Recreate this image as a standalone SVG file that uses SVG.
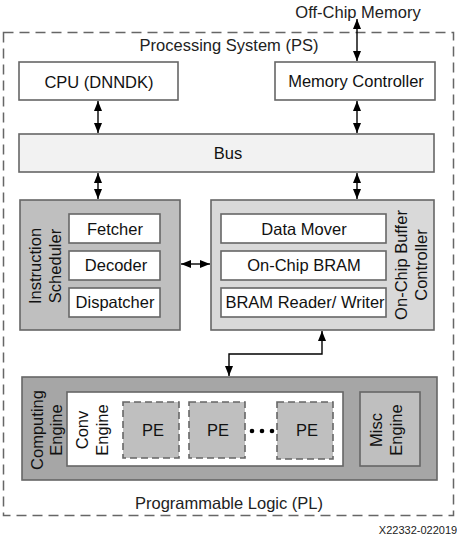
<svg xmlns="http://www.w3.org/2000/svg" width="457" height="537" viewBox="0 0 457 537">
<defs>
<style>
text{font-family:"Liberation Sans",Arial,sans-serif;font-size:16.5px;fill:#111;text-anchor:middle;dominant-baseline:central}
.box{stroke:#666;stroke-width:1.6}
.w{fill:#fff}
.pe{fill:#bfbfbf;stroke:#666;stroke-width:1.6;stroke-dasharray:7 4}
.c{fill:none;stroke:#000;stroke-width:1.4}
.lbl{fill:#222}
</style>
<marker id="ah" viewBox="0 0 10 8" refX="10" refY="4" markerWidth="10" markerHeight="8" markerUnits="userSpaceOnUse" orient="auto-start-reverse">
<path d="M0,0 L10,4 L0,8 Z" fill="#000"/>
</marker>
</defs>
<rect width="457" height="537" fill="#fff"/>
<g id="ps-pl-boundary">
<rect x="3.5" y="32.5" width="450" height="483" fill="none" stroke="#666" stroke-width="1.5" stroke-dasharray="10 6"/>
<text class="lbl" x="229" y="45">Processing System (PS)</text>
<text class="lbl" x="229" y="503">Programmable Logic (PL)</text>
</g>
<g id="offchip"><text class="lbl" x="358" y="12">Off-Chip Memory</text></g>
<g id="cpu"><rect class="box w" x="19" y="62" width="159" height="38"/><text x="99" y="82">CPU (DNNDK)</text></g>
<g id="memctrl"><rect class="box w" x="275" y="62" width="160" height="38"/><text x="356" y="81">Memory Controller</text></g>
<g id="bus"><rect class="box" fill="#f2f2f2" x="19" y="134" width="415" height="38"/><text x="228" y="153">Bus</text></g>
<g id="instr-sched">
<rect class="box" fill="#bfbfbf" x="20" y="200" width="160" height="130"/>
<text transform="translate(35,266) rotate(-90)">Instruction</text>
<text transform="translate(55,266) rotate(-90)">Scheduler</text>
<g id="fetcher"><rect class="box w" x="69" y="214" width="91" height="29"/><text x="115" y="229">Fetcher</text></g>
<g id="decoder"><rect class="box w" x="69" y="251" width="91" height="29"/><text x="116" y="265">Decoder</text></g>
<g id="dispatcher"><rect class="box w" x="69" y="288" width="91" height="29"/><text x="115" y="302">Dispatcher</text></g>
</g>
<g id="buffer-ctrl">
<rect class="box" fill="#d9d9d9" x="211" y="200" width="223" height="130"/>
<text transform="translate(401,265) rotate(-90)">On-Chip Buffer</text>
<text transform="translate(421,265) rotate(-90)">Controller</text>
<g id="datamover"><rect class="box w" x="221" y="214" width="165" height="29"/><text x="304" y="229">Data Mover</text></g>
<g id="bram"><rect class="box w" x="221" y="251" width="165" height="29"/><text x="304" y="265">On-Chip BRAM</text></g>
<g id="rw"><rect class="box w" x="221" y="288" width="165" height="29"/><text x="305" y="302">BRAM Reader/ Writer</text></g>
</g>
<g id="computing-engine">
<rect class="box" fill="#a6a6a6" x="22" y="377" width="415" height="103"/>
<text transform="translate(37,430) rotate(-90)">Computing</text>
<text transform="translate(56,430) rotate(-90)">Engine</text>
<g id="conv-engine">
<rect class="box w" x="67" y="392" width="276" height="74"/>
<text transform="translate(82,430) rotate(-90)">Conv</text>
<text transform="translate(102,430) rotate(-90)">Engine</text>
<g id="pe1"><rect class="pe" x="123" y="402" width="56" height="56"/><text x="153" y="430">PE</text></g>
<g id="pe2"><rect class="pe" x="189" y="402" width="56" height="56"/><text x="218" y="430">PE</text></g>
<g id="dots"><circle cx="252" cy="431" r="2.3"/><circle cx="262" cy="431" r="2.3"/><circle cx="272" cy="431" r="2.3"/></g>
<g id="pe3"><rect class="pe" x="277" y="402" width="56" height="57"/><text x="307" y="430">PE</text></g>
</g>
<g id="misc-engine">
<rect class="box" fill="#bfbfbf" x="360" y="392" width="60" height="74"/>
<text transform="translate(376,430) rotate(-90)">Misc</text>
<text transform="translate(396,430) rotate(-90)">Engine</text>
</g>
</g>
<g id="connectors">
<line class="c" x1="357" y1="19" x2="357" y2="61" marker-start="url(#ah)" marker-end="url(#ah)"/>
<line class="c" x1="98" y1="101" x2="98" y2="133" marker-start="url(#ah)" marker-end="url(#ah)"/>
<line class="c" x1="357" y1="101" x2="357" y2="133" marker-start="url(#ah)" marker-end="url(#ah)"/>
<line class="c" x1="98" y1="173" x2="98" y2="199" marker-start="url(#ah)" marker-end="url(#ah)"/>
<line class="c" x1="357" y1="173" x2="357" y2="199" marker-start="url(#ah)" marker-end="url(#ah)"/>
<line class="c" x1="181" y1="264" x2="210" y2="264" marker-start="url(#ah)" marker-end="url(#ah)"/>
<polyline class="c" points="322,331 322,354 229,354 229,376" marker-start="url(#ah)" marker-end="url(#ah)"/>
</g>
<g id="figure-id"><text x="418" y="530" style="font-size:11px" class="lbl">X22332-022019</text></g>
</svg>
